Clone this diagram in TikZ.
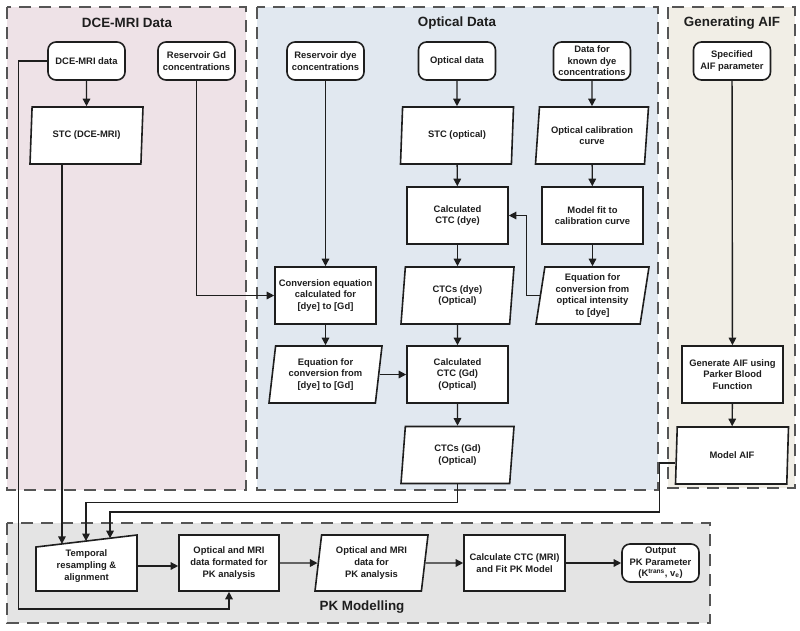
\documentclass[tikz,border=0pt]{standalone}
\usepackage{fontspec}
\setmainfont{Liberation Sans}
\usetikzlibrary{shapes.geometric,arrows.meta,calc}
\definecolor{dcebg}{HTML}{EEE2E7}
\definecolor{optbg}{HTML}{E1E8F0}
\definecolor{aifbg}{HTML}{F1EEE6}
\definecolor{pkbg}{HTML}{E4E4E4}
\definecolor{dashc}{HTML}{555555}
\definecolor{ink}{HTML}{1E1E1E}
\tikzset{
  panel/.style={fill=#1, draw=dashc, line width=2.2pt, dash pattern=on 12pt off 8pt},
  ptitle/.style={font=\fontsize{13.4}{16}\selectfont\bfseries, text=ink},
  base/.style={draw=ink, line width=1.6pt, fill=white, text=ink, font=\fontsize{9.4}{11.6}\selectfont\bfseries, align=center, inner sep=1pt},
  term/.style={base, rectangle, rounded corners=8pt, minimum width=77pt, minimum height=38pt},
  proc/.style={base, rectangle, minimum width=101pt, minimum height=57pt},
  io/.style={base, trapezium, trapezium left angle=79, trapezium right angle=101, trapezium stretches body, minimum width=113pt, minimum height=57pt},
  conn/.style={draw=ink, line width=1.4pt, -{Triangle[length=7.5pt,width=7.5pt]}},
}
\begin{document}
\begin{tikzpicture}[x=1pt,y=-1pt]
\useasboundingbox (0,0) rectangle (800,630);
% panels
\path[panel=dcebg] (7,7) rectangle (246,490);
\path[panel=optbg] (257,7) rectangle (658,490);
\path[panel=aifbg] (668,7) rectangle (795,488);
\path[panel=pkbg] (7,523) rectangle (710,623);
\node[ptitle] (tdce) at (127,23) {DCE-MRI Data};
\node[ptitle] (topt) at (457,23) {Optical Data};
\node[ptitle] (taif) at (732,23) {Generating AIF};
\node[ptitle] (tpk) at (362,607) {PK Modelling};
% DCE column
\node[term] (dce) at (86.5,61) {DCE-MRI data};
\node[term] (resGd) at (196.5,61) {Reservoir Gd\\concentrations};
\node[io] (stcd) at (86.5,135.5) {STC (DCE-MRI)};
% optical column
\node[term] (resDye) at (325.5,61) {Reservoir dye\\concentrations};
\node[term] (opt) at (457,61) {Optical data};
\node[term] (known) at (592,61) {Data for\\known dye\\concentrations};
\node[io] (stco) at (457,135.5) {STC (optical)};
\node[io] (calib) at (592,135.5) {Optical calibration\\curve};
\node[proc] (calcdye) at (457.5,215.5) {Calculated\\CTC (dye)};
\node[proc] (modelfit) at (592.5,215.5) {Model fit to\\calibration curve};
\node[proc] (conv) at (325.5,295.5) {Conversion equation\\calculated for\\{[dye]} to [Gd]};
\node[io] (ctcdye) at (457.5,295.5) {CTCs (dye)\\(Optical)};
\node[io] (eqopt) at (592.5,295.5) {Equation for\\conversion from\\optical intensity\\to [dye]};
\node[io] (eqdg) at (325.5,374.5) {Equation for\\conversion from\\{[dye]} to [Gd]};
\node[proc] (calcgd) at (457.5,374.5) {Calculated\\CTC (Gd)\\(Optical)};
\node[io] (ctcgd) at (457.5,455) {CTCs (Gd)\\(Optical)};
% AIF column
\node[term] (spec) at (732,61) {Specified\\AIF parameter};
\node[proc] (genaif) at (732.5,374.5) {Generate AIF using\\Parker Blood\\Function};
\node[io] (maif) at (732,455.5) {Model AIF};
% PK row
\coordinate (tSW) at (36,591);
\coordinate (tSE) at (137,591);
\coordinate (tNE) at (137,535);
\coordinate (tNW) at (36,547);
\path[draw=ink, line width=1.6pt, fill=white] (tSW) -- (tSE) -- (tNE) -- (tNW) -- cycle;
\node[base, draw=none, fill=none, minimum width=101pt, minimum height=56pt] (temporal) at (86.5,566) {Temporal\\resampling \&\\alignment};
\coordinate (in1) at ($(tNW)!0.257!(tNE)$);
\coordinate (in2) at ($(tNW)!0.495!(tNE)$);
\coordinate (in3) at ($(tNW)!0.733!(tNE)$);
\node[proc, minimum width=100pt, minimum height=56pt] (formated) at (229,563) {Optical and MRI\\data formated for\\PK analysis};
\node[io, minimum height=56pt] (opmri) at (371.5,563) {Optical and MRI\\data for\\PK analysis};
\node[proc, minimum height=56pt] (calcmri) at (514.5,563) {Calculate CTC (MRI)\\and Fit PK Model};
\node[term] (output) at (660.5,563) {Output\\PK Parameter\\(K\textsuperscript{trans}, v\textsubscript{e})};
% connectors
\draw[conn] (dce) -- (stcd);
\draw[conn] (dce.west) -| ++(-29,548) -| (formated.south);
\draw[conn] (in1 |- stcd.south) -- (in1);
\draw[conn] (resGd.south) |- (conv.west);
\draw[conn] (resDye) -- (conv);
\draw[conn] (opt) -- (stco);
\draw[conn] (known) -- (calib);
\draw[conn] (stco) -- (calcdye);
\draw[conn] (calib) -- (modelfit);
\draw[conn] (modelfit) -- (eqopt);
\draw[conn] (eqopt.west) -- ++(-13,0) |- (calcdye.east);
\draw[conn] (calcdye) -- (ctcdye);
\draw[conn] (ctcdye) -- (calcgd);
\draw[conn] (conv) -- (eqdg);
\draw[conn] (eqdg) -- (calcgd);
\draw[conn] (calcgd) -- (ctcgd);
\draw[conn] (ctcgd.south) -- ++(0,18) -| (in2);
\draw[conn] (spec) -- (genaif);
\draw[conn] (genaif) -- (maif);
\coordinate (maifL) at ($(maif.bottom left corner)!0.37!(maif.top left corner)$);
\draw[conn] (maifL) -- ++(-16,0) -- ++(0,49) -| (in3);
\draw[conn] (tSE |- temporal.center) -- (formated.west |- temporal.center);
\draw[conn] (formated) -- (opmri);
\draw[conn] (opmri) -- (calcmri);
\draw[conn] (calcmri) -- (output);
\end{tikzpicture}
\end{document}
